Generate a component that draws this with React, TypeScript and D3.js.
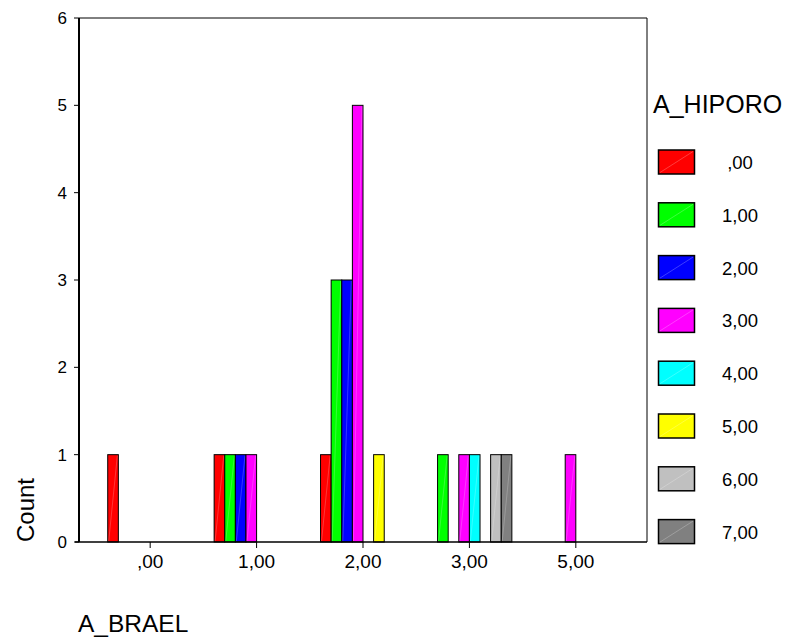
import React from "react";
import * as d3 from "d3";

const categories = [",00", "1,00", "2,00", "3,00", "5,00"];
const seriesNames = [",00", "1,00", "2,00", "3,00", "4,00", "5,00", "6,00", "7,00"];
const seriesColors = ["#ff0000", "#00ff00", "#0000ff", "#ff00ff", "#00ffff", "#ffff00", "#c0c0c0", "#808080"];
// counts[category][series]
const countsC0 = [1, 0, 0, 0, 0, 0, 0, 0];
const countsC1 = [1, 1, 1, 1, 0, 0, 0, 0];
const countsC2 = [1, 3, 3, 5, 0, 1, 0, 0];
const countsC3 = [0, 1, 0, 1, 1, 0, 1, 1];
const countsC5 = [0, 0, 0, 1, 0, 0, 0, 0];
const counts = [countsC0, countsC1, countsC2, countsC3, countsC5];
const yTicks = [0, 1, 2, 3, 4, 5, 6];

const FONT = "Liberation Sans, Arial, sans-serif";

export default function App() {
  const left = 79, right = 647, top = 18, bottom = 542;
  const x = d3.scalePoint<string>().domain(categories).range([left, right]).padding(0.669);
  const step = x.step();
  const inner = d3.scaleBand<number>().domain(d3.range(8)).range([-0.399 * step, 0.399 * step]);
  const y = d3.scaleLinear().domain([0, 6]).range([bottom, top]);

  const bars: any[] = [];
  counts.forEach((arr, ci) => {
    arr.forEach((v, si) => {
      if (v <= 0) return;
      const bx = (x(categories[ci]) as number) + (inner(si) as number);
      const bw = inner.bandwidth();
      const by = y(v);
      const bh = y(0) - y(v);
      bars.push(
        <g key={`${ci}-${si}`}>
          <rect x={bx} y={by} width={bw} height={bh} fill={seriesColors[si]} stroke="#000" strokeWidth={1} />
          <line x1={bx + 1} y1={bottom - 1} x2={bx + bw - 1} y2={by + 1} stroke="#ffffff" strokeOpacity={0.35} strokeWidth={0.6} />
        </g>
      );
    });
  });

  const legY0 = 150, legStep = 52.8;

  return (
    <svg width={786} height={640} style={{ position: "absolute", left: 0, top: 0 }} fontFamily={FONT}>
      <rect x={0} y={0} width={786} height={640} fill="#fff" />
      {/* frame */}
      <line x1={left} y1={top} x2={right} y2={top} stroke="#000" strokeWidth={1} />
      <line x1={right} y1={top} x2={right} y2={bottom} stroke="#000" strokeWidth={1} />
      {bars}
      <line x1={left} y1={top} x2={left} y2={bottom} stroke="#000" strokeWidth={2} />
      <line x1={left - 4} y1={bottom} x2={right} y2={bottom} stroke="#000" strokeWidth={1.5} />
      {yTicks.map((t) => (
        <g key={t}>
          <line x1={left - 5} y1={y(t)} x2={left} y2={y(t)} stroke="#000" strokeWidth={1} />
          <text x={67} y={y(t)} dy="0.36em" textAnchor="end" fontSize={17} fill="#000">{t}</text>
        </g>
      ))}
      {categories.map((c) => (
        <g key={c}>
          <line x1={x(c)} y1={bottom} x2={x(c)} y2={bottom + 6} stroke="#000" strokeWidth={1} />
          <text x={x(c)} y={568} textAnchor="middle" fontSize={19} fill="#000">{c}</text>
        </g>
      ))}
      <text transform={`translate(34,510) rotate(-90)`} textAnchor="middle" fontSize={24} fill="#000">Count</text>
      <text x={78} y={631.5} fontSize={24.5} fill="#000">A_BRAEL</text>
      {/* legend */}
      <text x={653} y={113} fontSize={25} fill="#000">A_HIPORO</text>
      {seriesNames.map((s, i) => {
        const ly = legY0 + i * legStep;
        return (
          <g key={s}>
            <rect x={658.5} y={ly} width={36} height={24} fill={seriesColors[i]} stroke="#000" strokeWidth={1.5} />
            <line x1={660} y1={ly + 22.5} x2={693} y2={ly + 1.5} stroke="#fff" strokeOpacity={0.4} strokeWidth={0.6} />
            <text x={740} y={ly + 19} textAnchor="middle" fontSize={18.5} fill="#000">{s}</text>
          </g>
        );
      })}
    </svg>
  );
}
